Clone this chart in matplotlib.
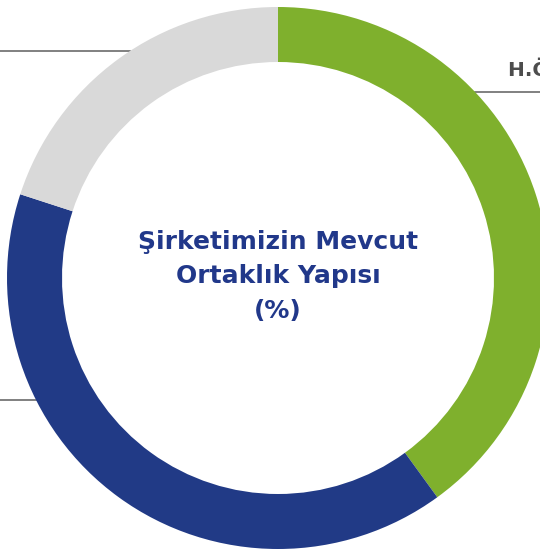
import matplotlib
matplotlib.use("Agg")
import matplotlib.pyplot as plt

labels = ["H.Ö. Sabancı Holding", "Diğer", "Halka Açık"]
values = [40, 40, 20]
colors = ["#7FB02D", "#213A86", "#D9D9D9"]
title_lines = ["Şirketimizin Mevcut", "Ortaklık Yapısı", "(%)"]

W, H = 540, 549
fig = plt.figure(figsize=(W / 100, H / 100), dpi=100)
ax = fig.add_axes([0, 0, 1, 1])

cx, cy, R, w = 278, H - 278, 271, 55
ax.pie(values, colors=colors, startangle=90, counterclock=False,
       radius=R, center=(cx, cy), frame=True,
       wedgeprops=dict(width=w, linewidth=0))
ax.set_xlim(0, W)
ax.set_ylim(0, H)
ax.set_aspect("equal")
ax.axis("off")

lc = "#6B6B6B"
ax.plot([0, 130], [H - 51, H - 51], color=lc, lw=1.2, zorder=0)
ax.plot([0, 37], [H - 400, H - 400], color=lc, lw=1.2, zorder=0)
ax.plot([475, 540], [H - 92, H - 92], color=lc, lw=1.2, zorder=0)

ax.text(508, H - 76, labels[0], fontsize=14.5, fontweight="bold", color="#4D4D4D",
        family="DejaVu Sans", ha="left", va="baseline")

for i, t in enumerate(title_lines):
    ax.text(cx, H - 242 - i * 34.5, t, fontsize=18, fontweight="bold",
            color="#21388A", family="DejaVu Sans", ha="center", va="center")

fig.savefig("out.png", dpi=100)
